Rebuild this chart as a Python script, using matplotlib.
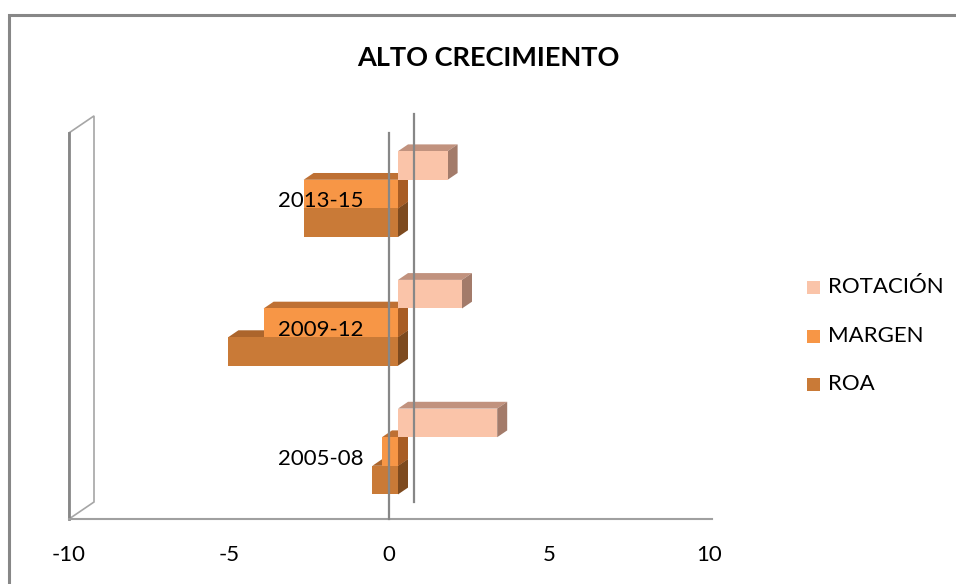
import matplotlib
matplotlib.use("Agg")
import matplotlib.pyplot as plt
from matplotlib.patches import Polygon, Rectangle

# --- data -------------------------------------------------------------
categories = ["2005-08", "2009-12", "2013-15"]
series_names = ["ROA", "MARGEN", "ROTACIÓN"]
roa = [-0.8, -5.3, -2.95]
margen = [-0.5, -4.2, -2.95]
rotacion = [3.1, 2.0, 1.55]
xticks = [-10, -5, 0, 5, 10]

# --- styling ----------------------------------------------------------
FONT = ["Lato", "DejaVu Sans"]
plt.rcParams["font.family"] = FONT

# colour triplets: front, top, side
colors = {
    "ROA": ("#C97A37", "#AC652C", "#7D4A1F"),
    "MARGEN": ("#F79646", "#BE7033", "#A85D25"),
    "ROTACIÓN": ("#FAC4A9", "#C1927E", "#A37B6A"),
}
GRID = "#878787"

W, H = 956, 584
fig = plt.figure(figsize=(W / 100, H / 100), dpi=100)
ax = fig.add_axes([0, 0, 1, 1])
ax.set_axis_off()

# pixel geometry of the plot box (x: value units, y: category units)
px_unit = 32.0          # pixels per value unit
py_unit = 128.7         # pixels per category band
x0_px, floor_px = 389, 519
ax.set_xlim(-x0_px / px_unit, (W - x0_px) / px_unit)
ax.set_ylim((floor_px - H) / py_unit, floor_px / py_unit)

# oblique depth of the plot box
dx = 25 / px_unit
dy = 17 / py_unit
f_front, f_back = 0.36, 0.76   # bar depth as fraction of the box depth
bar_h = 1 / 4.5                # gap width 150 %
band_pad = (1 - 3 * bar_h) / 2 - 0.023
vmin, vmax = xticks[0], xticks[-1]
n = len(categories)

# left side wall and floor edge
wall = Polygon([(vmin, 0), (vmin + dx, dy), (vmin + dx, n + dy), (vmin, n)],
               closed=True, facecolor="white", edgecolor="#A6A6A6", lw=1.2, zorder=1)
ax.add_patch(wall)
ax.plot([vmin, vmin], [0, n], color=GRID, lw=2.0, zorder=2)
ax.plot([vmin, vmax + 0.1], [0, 0], color="#A0A0A0", lw=1.5, zorder=2)

# 3-D bars
values = {"ROA": roa, "MARGEN": margen, "ROTACIÓN": rotacion}
ox1, oy1 = f_front * dx, f_front * dy
ox2, oy2 = f_back * dx, f_back * dy
z = 3
for s_idx, name in enumerate(series_names):
    front_c, top_c, side_c = colors[name]
    vals = values[name]
    lefts = [min(0, v) for v in vals]
    widths = [abs(v) for v in vals]
    bottoms = [i + band_pad + s_idx * bar_h for i in range(n)]
    for left, wd, yb in zip(lefts, widths, bottoms):
        xa, xb = left, left + wd
        yt = yb + bar_h
        top = Polygon([(xa + ox1, yt + oy1), (xb + ox1, yt + oy1),
                       (xb + ox2, yt + oy2), (xa + ox2, yt + oy2)],
                      closed=True, facecolor=top_c, edgecolor="none", zorder=z)
        side = Polygon([(xb + ox1, yb + oy1), (xb + ox1, yt + oy1),
                        (xb + ox2, yt + oy2), (xb + ox2, yb + oy2)],
                       closed=True, facecolor=side_c, edgecolor="none", zorder=z)
        ax.add_patch(top)
        ax.add_patch(side)
    ax.barh([b + oy1 for b in bottoms], widths, height=bar_h,
            left=[l + ox1 for l in lefts], align="edge",
            color=front_c, edgecolor="none", zorder=z + 1)
    z += 2

# zero lines (front and back plane)
ax.plot([0, 0], [0, n], color=GRID, lw=1.6, zorder=20)
ax.plot([dx, dx], [dy, n + dy + 0.015], color=GRID, lw=1.6, zorder=20)

# value tick labels
for t in xticks:
    ax.text(t, -0.28, f"{t}", ha="center", va="center", fontsize=16,
            color="black", zorder=21)

# category labels
for i, c in enumerate(categories):
    ax.text(-0.8, i + 0.47, c, ha="right", va="center", fontsize=16,
            color="black", zorder=21)

# title
fig.text(488 / W, 1 - 58 / H, "ALTO CRECIMIENTO", ha="center", va="center",
         fontsize=19.5, fontweight="bold", color="black")

# legend
leg_rows = [287, 336, 384]
for name, yp in zip(reversed(series_names), leg_rows):
    fig.patches.append(Rectangle((807 / W, 1 - (yp + 6.5) / H), 13 / W, 13 / H,
                                 transform=fig.transFigure, facecolor=colors[name][0],
                                 edgecolor="none"))
    fig.text(828 / W, 1 - yp / H, name, ha="left", va="center", fontsize=16,
             color="black")

# chart-area border
fig.patches.append(Rectangle((9 / W, -0.05), 1.0, 1 - 15 / H + 0.05,
                             transform=fig.transFigure, facecolor="none",
                             edgecolor=GRID, lw=2.2))

fig.savefig("out.png", dpi=100)
